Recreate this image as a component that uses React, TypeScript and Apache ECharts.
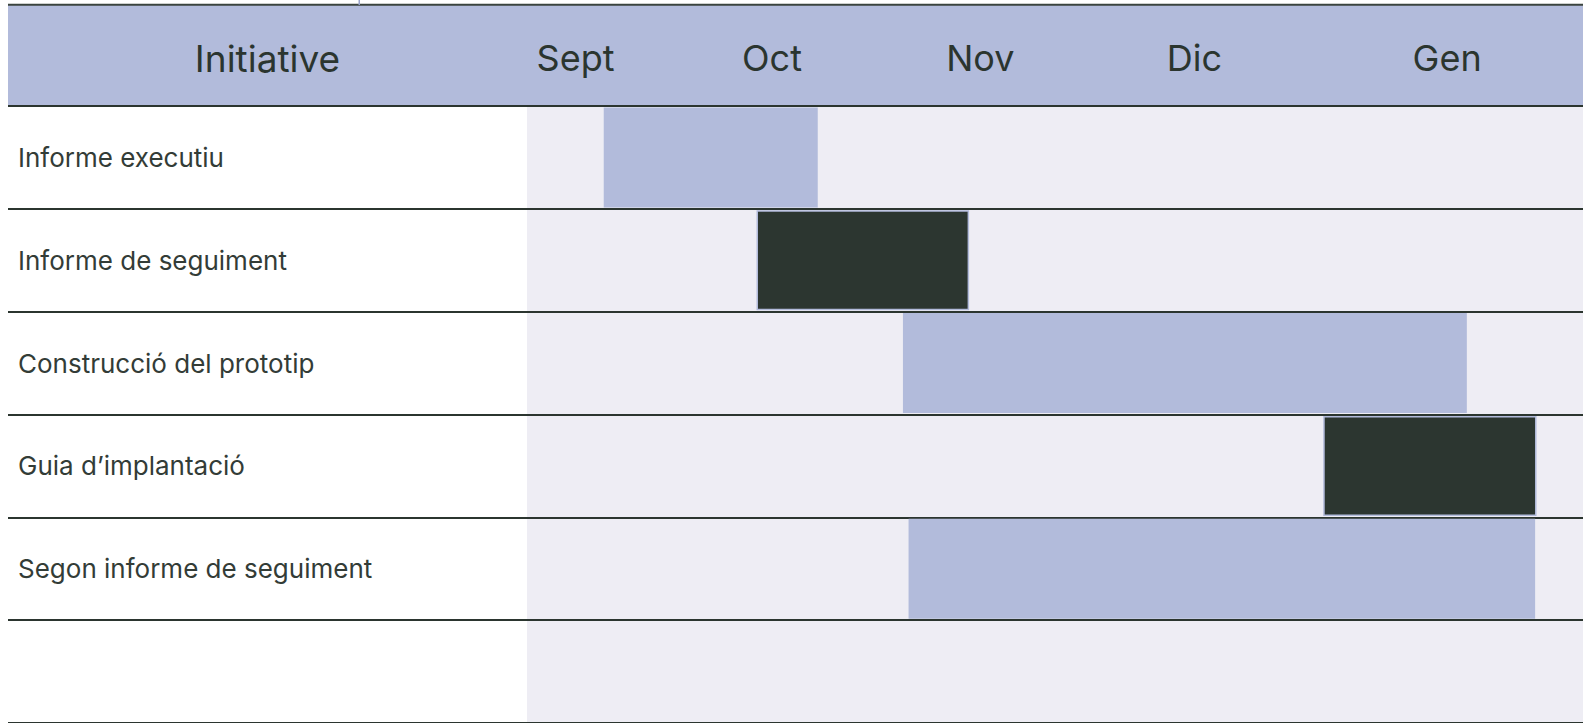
import React, { useEffect, useRef } from "react";
import * as echarts from "echarts";

// ---- data ----
const headerTitle = "Initiative";
const initiatives = [
  "Informe executiu",
  "Informe de seguiment",
  "Construcció del prototip",
  "Guia d’implantació",
  "Segon informe de seguiment",
  "",
];
// timeline in days from the start of the chart
const startDays = [10.9, 32.6, 53.4, 113.1, 54.2];
const endDays = [41.3, 62.8, 133.5, 143.4, 143.2];
const kinds = ["light", "dark", "light", "dark", "light"];
const monthLabels = ["Sept", "Oct", "Nov", "Dic", "Gen"];
const monthTickDays = [6.9, 34.8, 64.4, 94.8, 130.7];
const timelineMin = 0;
const timelineMax = 150;

const LAVENDER = "#B2BBDB";
const DARK = "#2C3630";
const TEXT = "#2B352F";
const GREY_BG = "#EEEDF4";
const FONT = "Inter, 'Noto Sans', sans-serif";

export default function App() {
  const ref = useRef<HTMLDivElement>(null);
  useEffect(() => {
    if (!ref.current) return;
    const chart = echarts.init(ref.current, undefined, { renderer: "svg" });
    const durations = startDays.map((s, i) => ({
      value: endDays[i] - s,
      itemStyle:
        kinds[i] === "dark"
          ? { color: DARK, borderColor: LAVENDER, borderWidth: 1.5 }
          : { color: LAVENDER },
    }));
    const ySplit = { show: true, lineStyle: { color: TEXT, width: 2 } };
    chart.setOption({
      animation: false,
      backgroundColor: "#ffffff",
      grid: [
        { left: 8, width: 519, top: 106, bottom: -0.5, show: false },
        {
          left: 527,
          right: 0,
          top: 106,
          bottom: -0.5,
          show: true,
          backgroundColor: GREY_BG,
          borderWidth: 0,
        },
      ],
      graphic: [
        {
          type: "rect",
          z: -10,
          shape: { x: 8, y: 5, width: 1575, height: 101 },
          style: { fill: LAVENDER },
        },
        {
          type: "line",
          z: -5,
          shape: { x1: 8, y1: 4.7, x2: 1583, y2: 4.7 },
          style: { stroke: "#3a433e", lineWidth: 2 },
        },
        {
          type: "rect",
          z: -4,
          shape: { x: 358.5, y: 0, width: 1.5, height: 5 },
          style: { fill: "#9aa3c9" },
        },
      ],
      xAxis: [
        {
          gridIndex: 0,
          type: "value",
          min: 0,
          max: 1,
          position: "top",
          axisLine: { show: false },
          axisTick: { show: false },
          splitLine: { show: false },
          axisLabel: {
            customValues: [0.5],
            formatter: () => headerTitle,
            margin: 48,
            verticalAlign: "middle",
            fontSize: 37,
            color: TEXT,
            fontFamily: FONT,
          },
        },
        {
          gridIndex: 1,
          type: "value",
          min: timelineMin,
          max: timelineMax,
          position: "top",
          axisLine: { show: false },
          axisTick: { show: false },
          splitLine: { show: false },
          axisLabel: {
            customValues: monthTickDays,
            formatter: (v: number) => {
              const idx = monthTickDays.findIndex((d) => Math.abs(d - v) < 1e-6);
              return idx >= 0 ? monthLabels[idx] : "";
            },
            margin: 48,
            verticalAlign: "middle",
            fontSize: 36,
            color: TEXT,
            fontFamily: FONT,
          },
        },
      ],
      yAxis: [
        {
          gridIndex: 0,
          type: "category",
          inverse: true,
          data: initiatives,
          axisLine: { show: false },
          axisTick: { show: false },
          splitLine: ySplit,
          axisLabel: {
            inside: true,
            margin: 10,
            align: "left",
            fontSize: 26,
            color: "#333c37",
            fontFamily: FONT,
          },
        },
        {
          gridIndex: 1,
          type: "category",
          inverse: true,
          data: initiatives,
          axisLine: { show: false },
          axisTick: { show: false },
          axisLabel: { show: false },
          splitLine: ySplit,
        },
      ],
      series: [
        {
          type: "bar",
          xAxisIndex: 1,
          yAxisIndex: 1,
          stack: "gantt",
          barWidth: 100,
          itemStyle: { color: "transparent" },
          silent: true,
          data: startDays,
        },
        {
          type: "bar",
          xAxisIndex: 1,
          yAxisIndex: 1,
          stack: "gantt",
          barWidth: 100,
          data: durations,
        },
      ],
    });
    return () => chart.dispose();
  }, []);
  return (
    <div
      ref={ref}
      style={{ position: "absolute", left: 0, top: 0, width: 1583, height: 723 }}
    />
  );
}
